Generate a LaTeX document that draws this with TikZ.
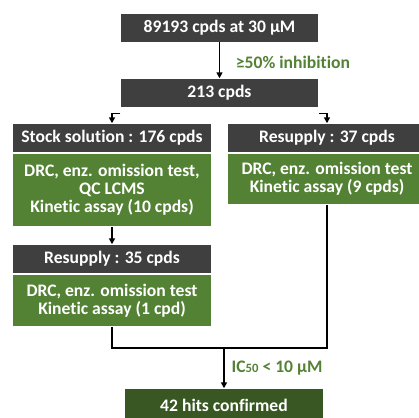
\documentclass[tikz,border=0pt]{standalone}
\usepackage{fontspec}
\setmainfont{Carlito}[Ligatures=CommonOff]
\usepackage{xcolor}
\usetikzlibrary{arrows.meta}

\definecolor{boxgray}{HTML}{3F3F3F}
\definecolor{boxgreen}{HTML}{548235}
\definecolor{hitgreen}{HTML}{385723}
\definecolor{labgreen}{HTML}{548235}

\begin{document}
\begin{tikzpicture}[x=0.75pt,y=0.75pt,yscale=-1,xscale=1,
    head/.style={fill=boxgray,text=white,font=\bfseries\fontsize{13.2}{13.5}\selectfont,minimum width=148.5pt,minimum height=21pt,inner sep=0pt,align=center},
    body/.style={fill=boxgreen,text=white,font=\bfseries\fontsize{13.2}{13.5}\selectfont,minimum width=148.5pt,inner sep=0pt,align=center},
    cond/.style={text=labgreen,font=\bfseries\fontsize{13.2}{13.5}\selectfont,anchor=west,inner sep=0.75pt},
    arr/.style={-{Triangle[length=4.5pt,width=4.5pt]}},
    every path/.style={line width=1.1pt}]
    \useasboundingbox (0,0) rectangle (419,418);

    %Shape: Rectangle [id:top]
    \draw (219.5,27.5) node (screen) [head,minimum width=147.75pt] {89193 cpds at 30 µM};
    %Shape: Rectangle [id:213]
    \draw (219.5,93) node (primary) [head,minimum width=147.75pt] {213 cpds};

    %Shape: Rectangle [id:stock]
    \draw (112,138) node (stockhead) [head] {Stock solution : 176 cpds};
    \draw (112,190) node (stockbody) [body,minimum height=54pt] {DRC, enz. omission test,\\QC LCMS\\Kinetic assay (10 cpds)};
    %Shape: Rectangle [id:resup37]
    \draw (327,138) node (resuphead) [head] {Resupply : 37 cpds};
    \draw (327,179) node (resupbody) [body,minimum height=37.5pt] {DRC, enz. omission test\\Kinetic assay (9 cpds)};
    %Shape: Rectangle [id:resup35]
    \draw (112,259) node (secondhead) [head] {Resupply : 35 cpds};
    \draw (112,300.5) node (secondbody) [body,minimum height=38.25pt] {DRC, enz. omission test\\Kinetic assay (1 cpd)};
    %Shape: Rectangle [id:hits]
    \draw (224,405) node (hits) [head,fill=hitgreen,minimum height=24pt] {42 hits confirmed};

    %Straight Lines
    \draw [arr] (screen) -- (primary) node [cond,pos=0.55,xshift=11pt] {≥50\% inhibition};
    \draw [arr] ([yshift=4.5pt]primary.south west) -| (stockhead);
    \draw [arr] ([yshift=4.5pt]primary.south east) -| (resuphead);
    \draw [arr] (stockbody) -- (secondhead);
    %Curve Lines
    \coordinate (merge) at (224,348);
    \draw (secondbody) |- (merge) -| (resupbody);
    \draw [arr] (merge) -- (hits) node [cond,midway,xshift=4.5pt] {IC{\fontsize{9.5}{10}\selectfont 50} < 10 µM};
\end{tikzpicture}
\end{document}
